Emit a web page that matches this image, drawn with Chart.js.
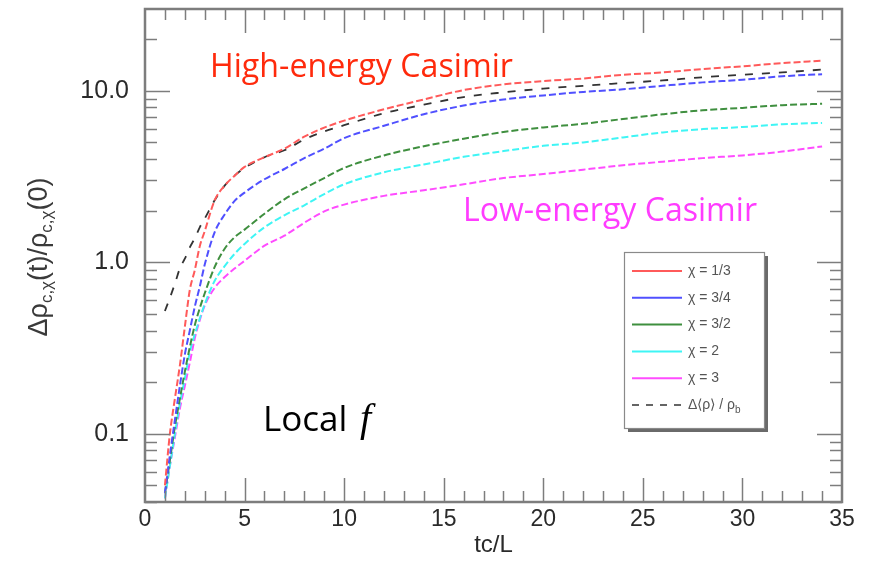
<!DOCTYPE html>
<html><head><meta charset="utf-8">
<script src="https://cdn.jsdelivr.net/npm/chart.js@4"></script>
<style>html,body{margin:0;padding:0;background:#fff}#wrap{width:879px;height:567px;position:relative}</style>
</head><body><div id="wrap"><canvas id="c" width="879" height="567"></canvas></div>
<script>
// ---- data ----
const tValues = [1,1.25,1.5,1.75,2,2.25,2.5,2.75,3,3.5,4,4.5,5,6,7,8,9,10,12,14,16,18,20,22,24,26,28,30,32,34];
const chi_1_3 = [0.05,0.10,0.16,0.25,0.42,0.69,0.90,1.24,1.52,2.3,2.8,3.2,3.6,4.1,4.6,5.4,6.1,6.7,7.8,8.9,10.1,10.9,11.4,11.8,12.4,12.8,13.4,13.9,14.5,15.0];
const chi_3_4 = [0.045,0.075,0.12,0.19,0.29,0.40,0.55,0.72,0.97,1.5,1.9,2.28,2.55,3.05,3.5,4.05,4.6,5.3,6.25,7.3,8.2,8.9,9.4,9.85,10.2,10.7,11.2,11.6,12.15,12.5];
const chi_3_2 = [0.045,0.07,0.11,0.16,0.23,0.32,0.43,0.54,0.66,0.94,1.2,1.4,1.55,1.92,2.33,2.7,3.1,3.55,4.2,4.75,5.25,5.75,6.12,6.42,6.85,7.3,7.7,7.95,8.25,8.4];
const chi_2   = [0.042,0.065,0.10,0.15,0.21,0.30,0.38,0.47,0.57,0.78,0.95,1.12,1.28,1.6,1.88,2.15,2.5,2.85,3.35,3.72,4.12,4.45,4.78,5.0,5.35,5.72,5.98,6.15,6.38,6.5];
const chi_3   = [0.042,0.065,0.095,0.14,0.19,0.26,0.36,0.46,0.56,0.71,0.82,0.92,1.02,1.25,1.43,1.7,1.98,2.17,2.44,2.63,2.85,3.1,3.27,3.47,3.68,3.86,4.05,4.2,4.42,4.74];
const meanRho = [0.52,0.62,0.75,0.92,1.05,1.22,1.38,1.6,1.8,2.3,2.8,3.2,3.55,4.1,4.5,5.2,5.8,6.3,7.4,8.3,9.2,9.8,10.3,10.7,11.1,11.5,12.0,12.4,12.8,13.3];
const seriesLabels = ['χ = 1/3','χ = 3/4','χ = 3/2','χ = 2','χ = 3','Δ⟨ρ⟩ / ρ_b'];
const xTickLabels = [0,5,10,15,20,25,30,35];
const yTickLabels = [0.1,1,10];
const xMinorTicks = Array.from({length:34},(_,i)=>i+1);
const yMinorTicks = [0.04,0.05,0.06,0.07,0.08,0.09,0.2,0.3,0.4,0.5,0.6,0.7,0.8,0.9,2,3,4,5,6,7,8,9,20];

const toPts = arr => tValues.map((t,i)=>({x:t,y:arr[i]}));
const seriesData = [chi_1_3,chi_3_4,chi_3_2,chi_2,chi_3,meanRho];
const colors = ['#ff5a5a','#5050ff','#3f8f3f','#3ff5f5','#ff4cff','#333333'];
const dashes = [[7,3],[7,3],[7,3],[7,3],[7,3],[8,9]];

const datasets = seriesData.map((arr,i)=>({
  label: seriesLabels[i],
  data: toPts(arr),
  borderColor: colors[i],
  borderWidth: i===5?1.8:2,
  borderDash: dashes[i],
  pointRadius: 0,
  fill: false,
  cubicInterpolationMode: 'monotone'
}));

const FRAME = '#7d7d7d';
const TICKFONT = '"Liberation Sans", Arial, sans-serif';

const decor = {
  id: 'decor',
  afterDatasetsDraw(chart) {
    const {ctx, chartArea: a, scales: {x, y}} = chart;
    ctx.save();
    ctx.strokeStyle = FRAME;
    ctx.lineWidth = 1.5;
    const tick = (x1,y1,x2,y2)=>{ctx.beginPath();ctx.moveTo(x1,y1);ctx.lineTo(x2,y2);ctx.stroke();};
    xMinorTicks.forEach(v=>{
      const px = Math.round(x.getPixelForValue(v))+0.5;
      const len = (v%5===0)?24:11;
      tick(px,a.bottom,px,a.bottom-len);
      tick(px,a.top,px,a.top+len);
    });
    yMinorTicks.concat(yTickLabels).forEach(v=>{
      const py = Math.round(y.getPixelForValue(v))+0.5;
      const len = yTickLabels.includes(v)?25:12;
      tick(a.left,py,a.left+len,py);
      tick(a.right,py,a.right-len,py);
    });
    ctx.lineWidth = 2.5;
    ctx.strokeRect(a.left, a.top, a.right-a.left, a.bottom-a.top);
    ctx.restore();

    // annotations
    ctx.save();
    ctx.textBaseline = 'alphabetic';
    ctx.textAlign = 'left';
    ctx.font = '33px "Open Sans", "Noto Sans", sans-serif';
    ctx.fillStyle = '#ff2a0c';
    ctx.fillText('High-energy Casimir', 210, 77, 303);
    ctx.fillStyle = '#ff3cff';
    ctx.fillText('Low-energy Casimir', 463, 221, 294);
    ctx.fillStyle = '#000';
    ctx.font = '35px "Open Sans", "Noto Sans", sans-serif';
    ctx.fillText('Local', 263, 431, 90);
    ctx.font = 'italic 40px "Liberation Serif", "DejaVu Serif", serif';
    ctx.fillText('f', 360, 431);
    ctx.restore();

    // y-axis title with subscripts
    ctx.save();
    const parts = [['Δρ',0],['c,χ',1],['(t)/ρ',0],['c,χ',1],['(0)',0]];
    const mainF = '27px ' + TICKFONT;
    const subF = '17px ' + TICKFONT;
    let total = 0;
    parts.forEach(p=>{ctx.font = p[1]?subF:mainF; p.push(ctx.measureText(p[0]).width); total += p[2];});
    ctx.translate(40, 257);
    ctx.rotate(-Math.PI/2);
    ctx.fillStyle = '#3a3a3a';
    ctx.textBaseline = 'middle';
    let cx = -total/2;
    parts.forEach(p=>{ctx.font = p[1]?subF:mainF; ctx.fillText(p[0], cx, p[1]?7:0); cx += p[2];});
    ctx.restore();
  },
  afterDraw(chart) {
    const {ctx} = chart;
    const bx = 624, by = 252, bw = 140, bh = 176;
    ctx.save();
    ctx.fillStyle = '#6a6a6a';
    ctx.fillRect(bx+4, by+4, bw, bh);
    ctx.fillStyle = '#fff';
    ctx.fillRect(bx, by, bw, bh);
    ctx.strokeStyle = '#8a8a8a';
    ctx.lineWidth = 1.2;
    ctx.strokeRect(bx+0.5, by+0.5, bw, bh);
    chart.data.datasets.forEach((ds,row)=>{
      const yy = 271 + row*26.8;
      const isRef = row===5;
      ctx.strokeStyle = ds.borderColor;
      ctx.lineWidth = isRef?1.5:2;
      ctx.setLineDash(isRef?[7,7]:[]);
      ctx.beginPath(); ctx.moveTo(632,yy); ctx.lineTo(682,yy); ctx.stroke();
      ctx.setLineDash([]);
      ctx.fillStyle = '#555';
      ctx.textBaseline = 'middle';
      const [main, sub] = ds.label.split('_');
      ctx.font = '14px ' + TICKFONT;
      ctx.fillText(main, 688, yy);
      if (sub) {
        const w = ctx.measureText(main).width;
        ctx.font = '10px ' + TICKFONT;
        ctx.fillText(sub, 688+w, yy+5);
      }
    });
    ctx.restore();
  }
};

new Chart(document.getElementById('c'), {
  type: 'line',
  data: { datasets },
  options: {
    responsive: false,
    animation: false,
    layout: { padding: { top: 9, right: 37, left: 0, bottom: 0 } },
    plugins: { legend: { display: false }, tooltip: { enabled: false } },
    scales: {
      x: {
        type: 'linear', min: 0, max: 35,
        grid: { display: false, drawTicks: false, tickLength: 0 }, border: { display: false },
        afterBuildTicks: s => { s.ticks = xTickLabels.map(v=>({value:v})); },
        afterFit: s => { s.height = 65; s.paddingLeft = 0; s.paddingRight = 0; },
        ticks: { padding: 4, color: '#2a2a2a', font: { family: TICKFONT, size: 23 }, maxRotation: 0, callback: v => String(v) },
        title: { display: true, text: 'tc/L', color: '#2a2a2a', font: { family: TICKFONT, size: 24 }, padding: { top: 0, bottom: 7 } }
      },
      y: {
        type: 'logarithmic', min: 0.04, max: 30,
        grid: { display: false, drawTicks: false, tickLength: 0 }, border: { display: false },
        afterBuildTicks: s => { s.ticks = yTickLabels.map(v=>({value:v})); },
        afterFit: s => { s.width = 145; s.paddingTop = 0; s.paddingBottom = 0; },
        ticks: { padding: 16, color: '#2a2a2a', font: { family: TICKFONT, size: 25 }, callback: v => Number(v).toFixed(1) }
      }
    }
  },
  plugins: [decor]
});
</script></body></html>
